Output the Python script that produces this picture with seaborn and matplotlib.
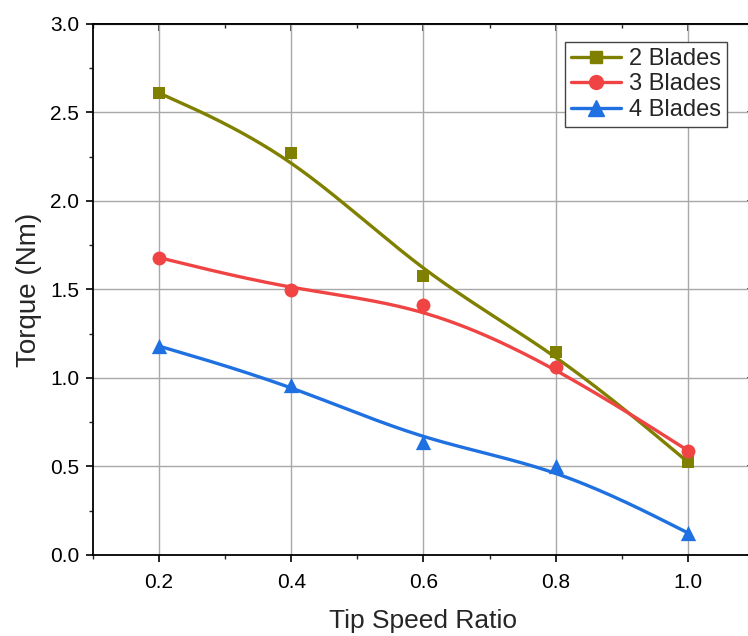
import numpy as np
import pandas as pd
import matplotlib
matplotlib.use("Agg")
import matplotlib.pyplot as plt
from matplotlib.lines import Line2D
from matplotlib.ticker import MultipleLocator
import seaborn as sns

# Data
tsr = [0.2, 0.4, 0.6, 0.8, 1.0]
torque_2_blades = [2.61, 2.273, 1.576, 1.149, 0.525]
torque_3_blades = [1.68, 1.497, 1.412, 1.064, 0.59]
torque_4_blades = [1.18, 0.96, 0.64, 0.50, 0.125]

labels = ["2 Blades", "3 Blades", "4 Blades"]
colors = ["#808000", "#F04444", "#1F70E0"]
markers = ["s", "o", "^"]
msizes = [8, 10, 11]


def bspline(xs, ys, n=40):
    # uniform cubic B-spline with the data as control points (ends repeated,
    # so the curve starts and ends on the first / last point)
    P = np.column_stack([xs, ys])
    P = np.vstack([P[:1], P[:1], P, P[-1:], P[-1:]])
    t = np.linspace(0, 1, n)
    B = np.column_stack([(1 - t) ** 3,
                         3 * t ** 3 - 6 * t ** 2 + 4,
                         -3 * t ** 3 + 3 * t ** 2 + 3 * t + 1,
                         t ** 3]) / 6
    segs = [B @ P[i:i + 4] for i in range(len(P) - 3)]
    pts = np.vstack(segs)
    return pts[:, 0], pts[:, 1]


sns.set_style("white")
plt.rcParams["font.family"] = ["Liberation Sans", "DejaVu Sans"]

fig = plt.figure(figsize=(7.48, 6.36), dpi=100)
ax = fig.add_axes([0.1243, 0.1274, 0.8837, 0.8349])

series = {"2 Blades": torque_2_blades, "3 Blades": torque_3_blades,
          "4 Blades": torque_4_blades}

handles = []
for lab, c, m, ms in zip(labels, colors, markers, msizes):
    y = series[lab]
    cx, cy = bspline(tsr, y)
    sns.lineplot(x=cx, y=cy, sort=False, estimator=None, color=c, lw=2.4,
                 ax=ax, zorder=3)
    sns.scatterplot(x=tsr, y=y, marker=m, s=ms ** 2, color=c, linewidth=0,
                    ax=ax, zorder=4)
    handles.append(Line2D([], [], color=c, lw=2.4, marker=m, markersize=ms))

ax.set_xlim(0.1, 1.1)
ax.set_ylim(0, 3.0)
ax.set_xticks([0.2, 0.4, 0.6, 0.8, 1.0])
ax.set_xticklabels(["0.2", "0.4", "0.6", "0.8", "1.0"])
ax.xaxis.set_minor_locator(MultipleLocator(0.1))
ax.yaxis.set_major_locator(MultipleLocator(0.5))
ax.yaxis.set_minor_locator(MultipleLocator(0.25))
ax.grid(True, which="major", color="#a8a8a8", lw=1.0)
ax.set_axisbelow(True)

for s in ax.spines.values():
    s.set_color("black")
    s.set_linewidth(1.3)

ax.tick_params(axis="both", which="major", direction="out", length=5, width=1.2,
               labelsize=15, colors="black", bottom=True, left=True, pad=5)
ax.tick_params(axis="x", which="major", pad=8)
ax.tick_params(axis="both", which="minor", direction="out", length=3, width=1.0,
               bottom=True, left=True)

top = ax.secondary_xaxis("top")
top.xaxis.set_major_locator(MultipleLocator(0.2))
top.xaxis.set_minor_locator(MultipleLocator(0.1))
top.tick_params(which="major", direction="in", length=5, width=1.2, labeltop=False)
top.tick_params(which="minor", direction="in", length=3, width=1.0)
top.spines["top"].set_linewidth(1.3)

right = ax.secondary_yaxis("right")
right.yaxis.set_major_locator(MultipleLocator(0.5))
right.yaxis.set_minor_locator(MultipleLocator(0.25))
right.tick_params(which="major", direction="in", length=5, width=1.2, labelright=False)
right.tick_params(which="minor", direction="in", length=3, width=1.0)

ax.set_xlabel("Tip Speed Ratio", fontsize=19, labelpad=12)
ax.set_ylabel("Torque (Nm)", fontsize=20, labelpad=6)

leg = ax.legend(handles, labels, loc="upper right", bbox_to_anchor=(0.959, 0.966),
                fontsize=17, frameon=True, fancybox=False, framealpha=1,
                edgecolor="#444444", handlelength=2.1, handletextpad=0.35,
                labelspacing=0.15, borderpad=0.25, borderaxespad=0)
leg.get_frame().set_linewidth(1.0)

fig.savefig("out.png", dpi=100)
